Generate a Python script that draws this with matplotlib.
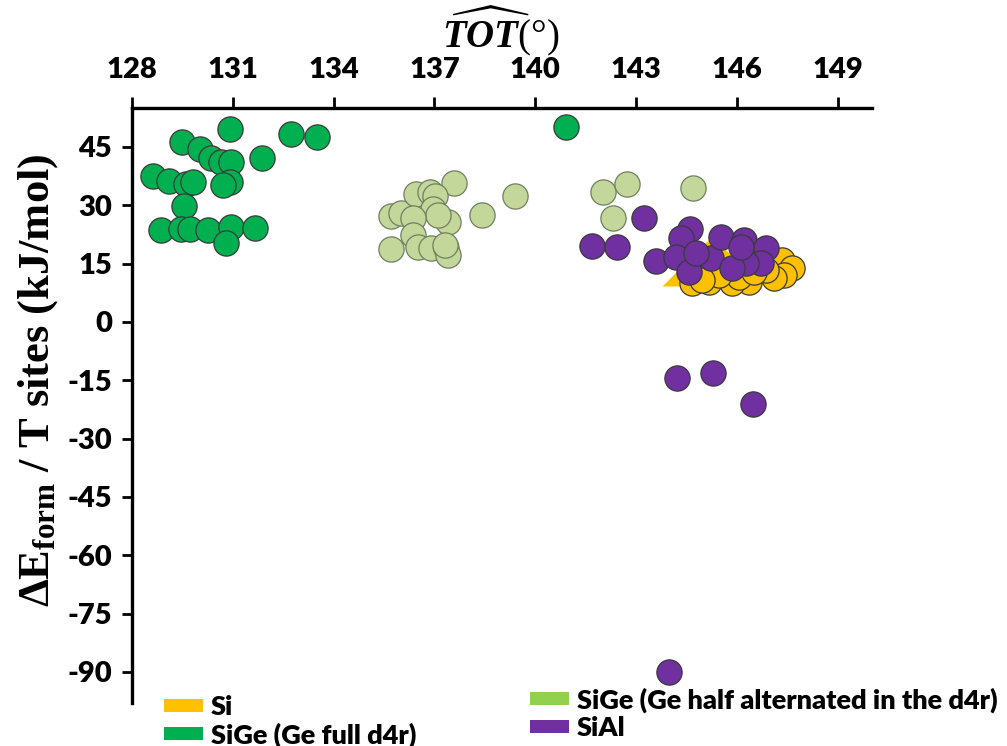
import matplotlib
matplotlib.use('Agg')
import matplotlib.pyplot as plt
from matplotlib.patches import Patch

# ---------------- data ----------------
si_x = [147.33, 147.63, 147.39, 147.09, 146.35, 145.84, 145.16, 144.65, 146.86,
        146.05, 145.46, 144.96, 146.5]
si_y = [15.9, 13.8, 12.0, 11.2, 10.2, 9.9, 10.2, 9.9, 13.3, 11.5, 12.0, 10.7, 12.7]
si_tri_x = [145.25]
si_tri_y = [15.7]

sige_full_x = [130.93, 132.74, 133.51, 129.49, 130.03, 130.35, 130.65, 130.95,
               131.87, 128.63, 129.10, 129.61, 129.82, 130.92, 130.71, 129.55,
               128.86, 129.46, 129.73, 130.26, 130.95, 131.66, 130.80, 140.90]
sige_full_y = [49.5, 48.4, 47.6, 46.3, 44.5, 42.1, 41.1, 41.1,
               42.1, 37.5, 36.2, 35.4, 35.9, 35.9, 35.1, 29.7,
               23.7, 24.0, 24.0, 23.7, 24.5, 24.2, 20.3, 50.2]

sige_half_x = [137.59, 139.41, 138.40, 135.72, 136.01, 136.46, 136.88, 137.03,
               136.97, 137.41, 137.12, 136.37, 136.37, 135.72, 136.52, 136.91,
               137.35, 137.41, 137.32, 142.00, 142.72, 142.30, 144.68]
sige_half_y = [35.6, 32.3, 27.6, 27.1, 28.1, 32.8, 33.3, 32.3,
               28.9, 25.8, 27.6, 26.8, 22.4, 18.8, 19.3, 19.0,
               19.0, 17.2, 19.8, 33.3, 35.4, 26.6, 34.4]

sial_x = [143.22, 141.67, 142.42, 143.58, 144.59, 144.32, 144.17, 144.56, 145.22,
          145.51, 146.20, 146.86, 146.71, 146.26, 145.84, 146.11, 144.78,
          144.21, 145.28, 146.47, 143.96]
sial_y = [26.8, 19.5, 19.3, 15.6, 24.0, 21.6, 16.7, 12.8, 16.4,
          21.9, 21.1, 19.0, 15.1, 15.1, 13.8, 19.3, 17.7,
          -14.5, -13.2, -21.0, -90.1]

x_ticks = [128, 131, 134, 137, 140, 143, 146, 149]
y_ticks = [45, 30, 15, 0, -15, -30, -45, -60, -75, -90]

legend_labels = ['Si', 'SiGe (Ge full d4r)',
                 'SiGe (Ge half alternated in the d4r)', 'SiAl']

# ---------------- style ----------------
C_SI = '#FFC000'
C_FULL = '#00B050'
C_HALF = '#C4D79B'
C_HALF_LEG = '#92D050'
C_SIAL = '#7030A0'
EDGE = '#3a3a3a'

plt.rcParams['axes.unicode_minus'] = False
plt.rcParams['mathtext.fontset'] = 'custom'
plt.rcParams['mathtext.rm'] = 'Liberation Serif:bold'
plt.rcParams['mathtext.it'] = 'Liberation Serif:italic:bold'
plt.rcParams['mathtext.bf'] = 'Liberation Serif:bold'

W, H = 1007, 746
fig = plt.figure(figsize=(W / 100, H / 100), dpi=100)
L, R, T, B = 131.7, 871.7, 108, 703
ax = fig.add_axes([L / W, 1 - B / H, (R - L) / W, (B - T) / H])
ax.set_xlim(128, 150)
ax.set_ylim(-98.0, 55.0)

S = 330
ax.plot(si_tri_x, si_tri_y, ls='none',
        marker=[(-1, -0.5), (0, 0.5), (1, -0.5)], ms=72,
        color=C_SI, mec='none', zorder=1)
ax.scatter(si_x, si_y, s=S, c=C_SI, edgecolors=EDGE, linewidths=0.9, zorder=2)
ax.scatter(sige_full_x, sige_full_y, s=S, c=C_FULL, edgecolors=EDGE, linewidths=0.9, zorder=3)
ax.scatter(sige_half_x, sige_half_y, s=S, c=C_HALF, edgecolors='#6f7f5f', linewidths=0.9, zorder=3)
ax.scatter(sial_x, sial_y, s=S, c=C_SIAL, edgecolors=EDGE, linewidths=0.9, zorder=4)

# axes / spines
for sp in ['right', 'bottom']:
    ax.spines[sp].set_visible(False)
for sp in ['top', 'left']:
    ax.spines[sp].set_linewidth(2.4)
ax.xaxis.tick_top()
ax.xaxis.set_label_position('top')
ax.set_xticks(x_ticks)
ax.set_yticks(y_ticks)
ax.tick_params(axis='x', direction='out', length=8, width=2, pad=10)
ax.tick_params(axis='y', direction='out', length=7, width=2, pad=7)
for lab in ax.get_xticklabels() + ax.get_yticklabels():
    lab.set_fontfamily('Lato')
    lab.set_fontweight('heavy')
    lab.set_fontsize(21)

ax.set_xlabel(r'$\widehat{TOT}$(°)', fontsize=28, family='Liberation Serif')
ax.xaxis.set_label_coords((501 - L) / (R - L), (B - 58) / (B - T))
ax.xaxis.label.set_va('bottom')

ax.set_ylabel(r'$\Delta$E$_{\rm form}$ / T sites (kJ/mol)', fontsize=32,
              family='Liberation Serif', fontweight='bold')
ax.yaxis.set_label_coords((38 - L) / (R - L), (B - 380) / (B - T))
ax.yaxis.label.set_va('center')

# legends (one entry each, placed like the reference)
fs = 19.5
colors = [C_SI, C_FULL, C_HALF_LEG, C_SIAL]
anchors = [(164, 707), (164, 735), (530, 700), (530, 728)]
for lab, col, (px, py) in zip(legend_labels, colors, anchors):
    fig.legend([Patch(facecolor=col)], [lab], frameon=False,
               handlelength=39 / (fs * 100 / 72), handleheight=10 / (fs * 100 / 72),
               handletextpad=0.3, borderpad=0, borderaxespad=0,
               loc='center left', bbox_to_anchor=(px / W, 1 - py / H),
               prop={'family': 'Lato', 'weight': 'heavy', 'size': fs})

fig.savefig('out.png', dpi=100)
